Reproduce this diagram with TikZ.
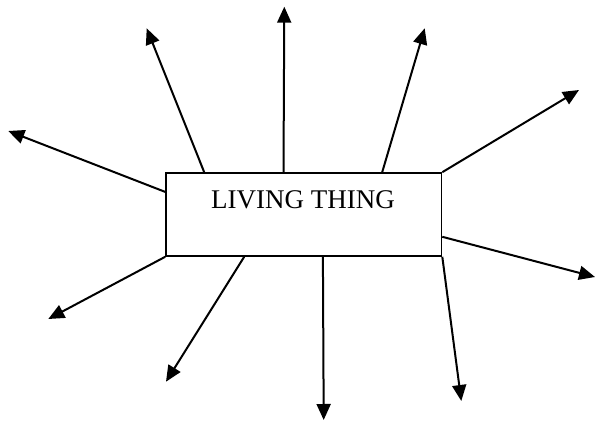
\documentclass[tikz,border=0pt]{standalone}
\usepackage{fontspec}
\setmainfont{Liberation Serif}
\usetikzlibrary{arrows.meta}
\begin{document}
\begin{tikzpicture}[x=1pt,y=1pt,
  boxstyle/.style={draw=black, line width=1.6pt, minimum width=275.5pt, minimum height=83pt, inner sep=0pt},
  labelstyle/.style={font=\fontsize{27}{30}\selectfont, inner sep=0pt},
  ray/.style={line width=2pt, -{Triangle[length=16pt,width=14pt]}}]
\useasboundingbox (0,0) rectangle (598,421);
\node[boxstyle] (box) at (303.75,206.5) {};
\node[labelstyle] (lbl) at (303,221) {LIVING THING};
% tips
\coordinate (t1) at (146.7,392.7);
\coordinate (t2) at (284.3,414.3);
\coordinate (t3) at (424.7,392.7);
\coordinate (t4) at (579,331);
\coordinate (t5) at (8.3,290);
\coordinate (t6) at (595,144);
\coordinate (t7) at (48.3,102);
\coordinate (t8) at (166,39.3);
\coordinate (t9) at (323.7,1);
\coordinate (t10) at (461.3,20);
\draw[ray] ([xshift=39pt]box.north west) -- (t1);
\draw[ray] ([xshift=118.3pt]box.north west) -- (t2);
\draw[ray] ([xshift=217pt]box.north west) -- (t3);
\draw[ray] (box.north east) -- (t4);
\draw[ray] ([yshift=-19.7pt]box.north west) -- (t5);
\draw[ray] ([yshift=20pt]box.south east) -- (t6);
\draw[ray] (box.south west) -- (t7);
\draw[ray] ([xshift=79pt]box.south west) -- (t8);
\draw[ray] ([xshift=157.7pt]box.south west) -- (t9);
\draw[ray] (box.south east) -- (t10);
\end{tikzpicture}
\end{document}
